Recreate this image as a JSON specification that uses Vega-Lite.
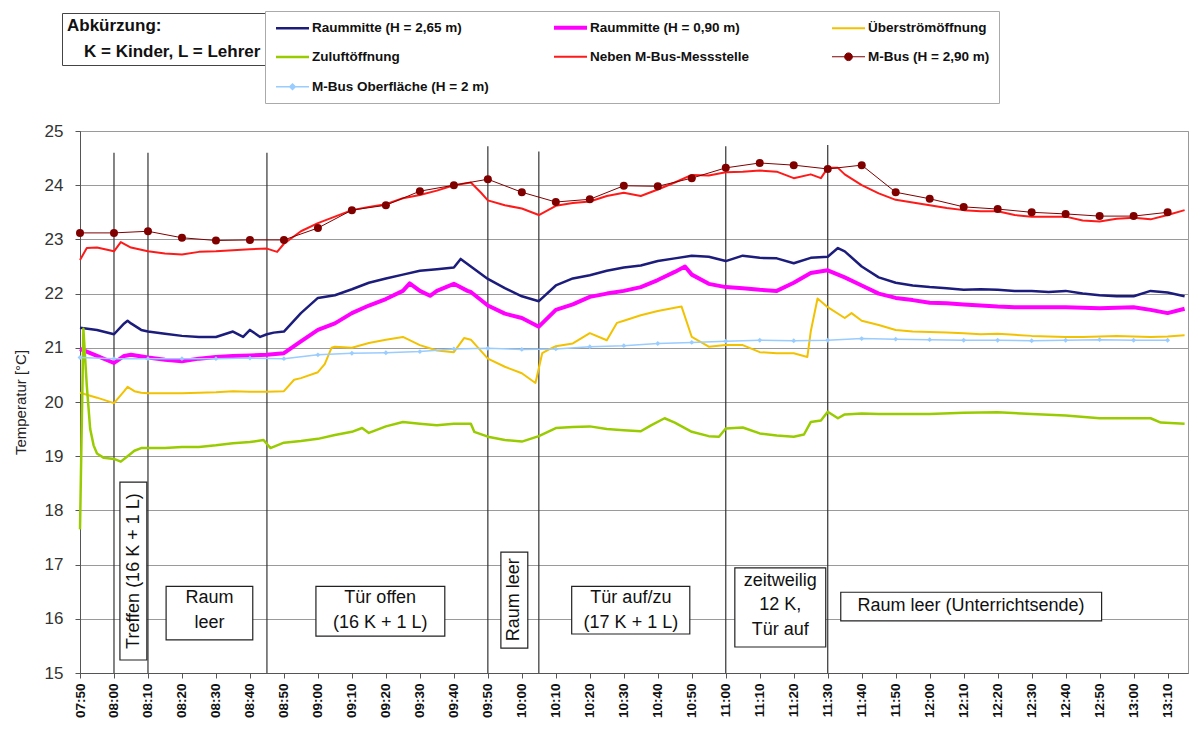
{
  "$schema": "https://vega.github.io/schema/vega-lite/v6.json",
  "autosize": "none",
  "width": 1108,
  "height": 542,
  "padding": {"left": 80, "top": 131, "right": 3, "bottom": 56},
  "background": "white",
  "config": {
    "font": "Liberation Sans",
    "view": {"stroke": "#999", "strokeWidth": 1}
  },
  "datasets": {
    "messung": [
      {"t":"07:50","a":21.37,"b":20.98,"c":20.17,"d":17.65,"e":22.62,"f":23.12,"g":20.82},
      {"t":"07:51","d":21.35},
      {"t":"07:52","d":20.3,"e":22.84},
      {"t":"07:53","d":19.5},
      {"t":"07:54","d":19.2},
      {"t":"07:55","a":21.33,"b":20.85,"c":20.08,"d":19.05,"e":22.85},
      {"t":"07:57","d":18.97},
      {"t":"08:00","a":21.25,"b":20.72,"c":19.98,"d":18.95,"e":22.78,"f":23.12,"g":20.8},
      {"t":"08:02","d":18.9,"e":22.95},
      {"t":"08:03","a":21.45,"b":20.85,"c":20.2},
      {"t":"08:04","a":21.5,"c":20.28,"d":19.0},
      {"t":"08:05","a":21.45,"b":20.87,"e":22.85},
      {"t":"08:06","c":20.2,"d":19.1},
      {"t":"08:08","a":21.33,"c":20.17,"d":19.15},
      {"t":"08:10","a":21.3,"b":20.82,"c":20.16,"d":19.15,"e":22.78,"f":23.15,"g":20.8},
      {"t":"08:15","a":21.26,"b":20.78,"c":20.16,"d":19.15,"e":22.74},
      {"t":"08:20","a":21.22,"b":20.75,"c":20.16,"d":19.17,"e":22.72,"f":23.03,"g":20.8},
      {"t":"08:25","a":21.2,"b":20.8,"c":20.17,"d":19.17,"e":22.77},
      {"t":"08:30","a":21.2,"b":20.83,"c":20.18,"d":19.2,"e":22.78,"f":22.98,"g":20.8},
      {"t":"08:35","a":21.3,"b":20.85,"c":20.2,"d":19.24,"e":22.8},
      {"t":"08:38","a":21.2},
      {"t":"08:40","a":21.33,"b":20.86,"c":20.19,"d":19.26,"e":22.82,"f":22.99,"g":20.81},
      {"t":"08:43","a":21.2},
      {"t":"08:44","d":19.3},
      {"t":"08:45","a":21.25,"b":20.87,"c":20.19,"e":22.83},
      {"t":"08:46","d":19.15},
      {"t":"08:47","a":21.28},
      {"t":"08:48","e":22.77},
      {"t":"08:50","a":21.3,"b":20.9,"c":20.2,"d":19.25,"e":22.92,"f":22.99,"g":20.8},
      {"t":"08:53","c":20.41},
      {"t":"08:55","a":21.64,"b":21.12,"c":20.44,"d":19.28,"e":23.15},
      {"t":"09:00","a":21.92,"b":21.33,"c":20.55,"d":19.32,"e":23.3,"f":23.21,"g":20.87},
      {"t":"09:02","c":20.7},
      {"t":"09:04","c":21.0},
      {"t":"09:05","a":21.97,"b":21.45,"c":21.02,"d":19.39,"e":23.42},
      {"t":"09:10","a":22.08,"b":21.64,"c":21.0,"d":19.45,"e":23.54,"f":23.54,"g":20.9},
      {"t":"09:13","d":19.52},
      {"t":"09:15","a":22.2,"b":21.78,"c":21.09,"d":19.43,"e":23.6},
      {"t":"09:20","a":22.28,"b":21.9,"c":21.15,"d":19.55,"e":23.65,"f":23.63,"g":20.91},
      {"t":"09:25","a":22.35,"b":22.05,"c":21.2,"d":19.63,"e":23.76},
      {"t":"09:27","b":22.19},
      {"t":"09:30","a":22.42,"b":22.05,"c":21.05,"d":19.6,"e":23.82,"f":23.89,"g":20.93},
      {"t":"09:33","b":21.96},
      {"t":"09:35","a":22.45,"b":22.05,"c":20.95,"d":19.57,"e":23.9},
      {"t":"09:40","a":22.48,"b":22.18,"c":20.92,"d":19.6,"e":24.0,"f":24.0,"g":20.98},
      {"t":"09:42","a":22.64},
      {"t":"09:43","c":21.18},
      {"t":"09:44","b":22.05},
      {"t":"09:45","a":22.5,"b":22.03,"c":21.15,"d":19.6,"e":24.05},
      {"t":"09:46","d":19.45},
      {"t":"09:48","e":23.86},
      {"t":"09:50","a":22.27,"b":21.78,"c":20.8,"d":19.36,"e":23.72,"f":24.11,"g":20.99},
      {"t":"09:55","a":22.1,"b":21.63,"c":20.65,"d":19.3,"e":23.63},
      {"t":"10:00","a":21.95,"b":21.55,"c":20.53,"d":19.27,"e":23.57,"f":23.87,"g":20.97},
      {"t":"10:04","c":20.35},
      {"t":"10:05","a":21.86,"b":21.39,"d":19.37,"e":23.45},
      {"t":"10:06","c":20.9},
      {"t":"10:08","c":20.97},
      {"t":"10:10","a":22.15,"b":21.7,"c":21.03,"d":19.52,"e":23.62,"f":23.69,"g":20.98},
      {"t":"10:15","a":22.28,"b":21.8,"c":21.08,"d":19.54,"e":23.67},
      {"t":"10:20","a":22.34,"b":21.94,"c":21.27,"d":19.55,"e":23.7,"f":23.74,"g":21.02},
      {"t":"10:25","a":22.42,"b":22.0,"c":21.14,"d":19.5,"e":23.8},
      {"t":"10:28","c":21.46},
      {"t":"10:30","a":22.48,"b":22.05,"c":21.5,"d":19.48,"e":23.86,"f":23.99,"g":21.04},
      {"t":"10:35","a":22.52,"b":22.12,"c":21.6,"d":19.46,"e":23.8},
      {"t":"10:38","d":19.57},
      {"t":"10:40","a":22.6,"b":22.25,"c":21.68,"e":23.92,"f":23.98,"g":21.08},
      {"t":"10:42","d":19.7},
      {"t":"10:45","a":22.65,"b":22.4,"c":21.74,"d":19.62,"e":24.05},
      {"t":"10:47","c":21.76},
      {"t":"10:48","b":22.5},
      {"t":"10:50","a":22.7,"b":22.35,"c":21.2,"d":19.45,"e":24.19,"f":24.13,"g":21.1},
      {"t":"10:55","a":22.68,"b":22.18,"c":21.02,"d":19.37,"e":24.18},
      {"t":"10:58","d":19.36},
      {"t":"11:00","a":22.6,"b":22.12,"c":21.05,"d":19.51,"e":24.24,"f":24.32,"g":21.12},
      {"t":"11:05","a":22.7,"b":22.1,"c":21.05,"d":19.53,"e":24.25},
      {"t":"11:10","a":22.66,"b":22.07,"c":20.92,"d":19.42,"e":24.27,"f":24.41,"g":21.14},
      {"t":"11:15","a":22.65,"b":22.05,"c":20.9,"d":19.38,"e":24.25},
      {"t":"11:20","a":22.56,"b":22.2,"c":20.9,"d":19.36,"e":24.13,"f":24.37,"g":21.13},
      {"t":"11:23","d":19.4},
      {"t":"11:24","c":20.83},
      {"t":"11:25","a":22.66,"b":22.38,"c":21.3,"d":19.63,"e":24.2},
      {"t":"11:27","c":21.91},
      {"t":"11:28","d":19.66,"e":24.13},
      {"t":"11:30","a":22.68,"b":22.43,"c":21.75,"d":19.82,"e":24.32,"f":24.3,"g":21.14},
      {"t":"11:33","a":22.84,"d":19.7,"e":24.32},
      {"t":"11:35","a":22.78,"b":22.3,"c":21.55,"d":19.77,"e":24.2},
      {"t":"11:37","c":21.64},
      {"t":"11:40","a":22.5,"b":22.15,"c":21.5,"d":19.79,"e":24.0,"f":24.37,"g":21.17},
      {"t":"11:45","a":22.3,"b":22.0,"c":21.42,"d":19.78,"e":23.85},
      {"t":"11:50","a":22.2,"b":21.92,"c":21.33,"d":19.78,"e":23.73,"f":23.87,"g":21.16},
      {"t":"11:55","a":22.15,"b":21.88,"c":21.3,"e":23.68},
      {"t":"12:00","a":22.12,"b":21.83,"c":21.29,"d":19.78,"e":23.63,"f":23.75,"g":21.15},
      {"t":"12:05","a":22.1,"b":21.82,"c":21.28,"e":23.58},
      {"t":"12:10","a":22.07,"b":21.8,"c":21.27,"d":19.8,"e":23.54,"f":23.6,"g":21.14},
      {"t":"12:15","a":22.08,"b":21.78,"c":21.25,"e":23.52},
      {"t":"12:20","a":22.07,"b":21.76,"c":21.26,"d":19.81,"e":23.52,"f":23.56,"g":21.14},
      {"t":"12:25","a":22.05,"b":21.75,"c":21.24,"e":23.45},
      {"t":"12:30","a":22.05,"b":21.75,"c":21.22,"d":19.78,"e":23.42,"f":23.5,"g":21.13},
      {"t":"12:35","a":22.03,"b":21.75,"c":21.21,"e":23.42},
      {"t":"12:40","a":22.05,"b":21.75,"c":21.2,"d":19.75,"e":23.42,"f":23.47,"g":21.14},
      {"t":"12:45","a":22.0,"b":21.74,"c":21.2,"e":23.35},
      {"t":"12:50","a":21.97,"b":21.73,"c":21.21,"d":19.7,"e":23.33,"f":23.43,"g":21.15},
      {"t":"12:55","a":21.95,"b":21.74,"c":21.22,"e":23.38},
      {"t":"13:00","a":21.95,"b":21.75,"c":21.21,"d":19.7,"e":23.4,"f":23.43,"g":21.14},
      {"t":"13:05","a":22.05,"b":21.7,"c":21.2,"d":19.7,"e":23.37},
      {"t":"13:08","d":19.62},
      {"t":"13:10","a":22.02,"b":21.64,"c":21.21,"e":23.45,"f":23.5,"g":21.14},
      {"t":"13:15","a":21.95,"b":21.72,"c":21.23,"d":19.6,"e":23.54}
    ],
    "ereignisse": [
      {"t":"08:00:00","unten":15,"oben":24.6},
      {"t":"08:10:00","unten":15,"oben":24.6},
      {"t":"08:45:00","unten":15,"oben":24.6},
      {"t":"09:50:00","unten":15,"oben":24.72},
      {"t":"10:05:00","unten":15,"oben":24.62},
      {"t":"11:00:00","unten":15,"oben":24.72},
      {"t":"11:30:00","unten":15,"oben":24.74}
    ],
    "abkuerzung": [
      {"eintrag":"K = Kinder, L = Lehrer"}
    ],
    "notizen_h": [
      {"von":"08:15:20","bis":"08:40:50","unten":15.61,"oben":16.6,"mitte":"08:28:05","hoehe":16.38,"text":["Raum","leer"]},
      {"von":"08:59:25","bis":"09:37:20","unten":15.68,"oben":16.6,"mitte":"09:18:20","hoehe":16.38,"text":["Tür offen","(16 K + 1 L)"]},
      {"von":"10:14:40","bis":"10:49:25","unten":15.72,"oben":16.6,"mitte":"10:32:05","hoehe":16.38,"text":["Tür auf/zu","(17 K + 1 L)"]},
      {"von":"11:02:40","bis":"11:29:25","unten":15.48,"oben":16.94,"mitte":"11:16:00","hoehe":16.7,"text":["zeitweilig","12 K,","Tür auf"]},
      {"von":"11:33:50","bis":"12:50:35","unten":15.96,"oben":16.49,"mitte":"12:12:10","hoehe":16.24,"text":"Raum leer (Unterrichtsende)"}
    ],
    "notizen_v": [
      {"von":"08:01:45","bis":"08:09:40","unten":15.24,"oben":18.52,"mitte":"08:05:45","hoehe":16.88,"text":"Treffen (16  K + 1 L)"},
      {"von":"09:53:50","bis":"10:01:45","unten":15.46,"oben":17.23,"mitte":"09:57:50","hoehe":16.35,"text":"Raum leer"}
    ]
  },
  "layer": [
    {
      "data": {"name": "ereignisse", "format": {"parse": {"t": "utc:'%H:%M:%S'"}}},
      "mark": {"type": "rule", "color": "#333", "strokeWidth": 1.2},
      "encoding": {
        "x": {"field": "t", "type": "temporal", "scale": {"type": "utc", "domain": [{"year":1900,"month":1,"date":1,"hours":7,"minutes":50,"utc":true},{"year":1900,"month":1,"date":1,"hours":13,"minutes":16,"utc":true}]},
          "axis": {"format": "%H:%M", "tickCount": {"interval": "minutes", "step": 10}, "labelAngle": 270, "labelFontWeight": "bold", "labelFontSize": 13.5, "labelColor": "#111", "labelOverlap": false, "labelFlush": false, "labelBound": false, "grid": false, "title": null, "domainColor": "#555", "tickColor": "#555", "tickSize": 5, "labelPadding": 5}},
        "y": {"field": "unten", "type": "quantitative", "scale": {"domain": [15, 25], "nice": false},
          "axis": {"values": [15,16,17,18,19,20,21,22,23,24,25], "title": "Temperatur [°C]", "titleFontSize": 15, "titleFontWeight": "normal", "titleColor": "#222", "labelFontSize": 17, "labelColor": "#333", "gridColor": "#9a9a9a", "domainColor": "#555", "tickColor": "#555", "tickSize": 5, "labelPadding": 12, "titlePadding": 16}},
        "y2": {"field": "oben"}
      }
    },
    {
      "data": {"name": "abkuerzung"},
      "mark": {"type": "point", "opacity": 0},
      "encoding": {
        "fill": {"field": "eintrag", "type": "nominal", "scale": {"range": ["white"]},
          "legend": {"orient": "none", "legendX": -18, "legendY": -118, "title": "Abkürzung:", "titleFontSize": 17, "titleFontWeight": "bold", "titleColor": "#111", "titlePadding": 8, "labelFontSize": 17, "labelFontWeight": "bold", "labelColor": "#111", "labelLimit": 400, "labelOffset": 0, "symbolSize": 1, "symbolOpacity": 0, "symbolStrokeWidth": 0, "padding": 5, "strokeColor": "#444", "fillColor": "white",
            "encode": {"legend": {"update": {"strokeWidth": {"value": 2}}}, "labels": {"update": {"dx": {"value": -9}}}}}}
      }
    },
    {
      "data": {"name": "messung", "format": {"parse": {"t": "utc:'%H:%M'"}}},
      "transform": [
        {"fold": ["a","b","c","d","e","f","g"], "as": ["s","v"]},
        {"filter": "isValid(datum.v)"}
      ],
      "layer": [
        {
          "mark": {"type": "line", "strokeJoin": "round"},
          "encoding": {
            "x": {"field": "t", "type": "temporal", "scale": {"type": "utc"}},
            "y": {"field": "v", "type": "quantitative"},
            "color": {"field": "s", "type": "nominal",
              "scale": {"domain": ["a","b","c","d","e","f","g"], "range": ["#1c1c7c","#ff00ff","#f2c200","#99cc00","#ff1a1a","#800000","#99ccff"]},
              "legend": {"orient": "none", "legendX": 185, "legendY": -120, "direction": "horizontal", "columns": 3, "gridAlign": "all", "title": null,
                "labelFontSize": 13.5, "labelFontWeight": "bold", "labelColor": "#111", "labelLimit": 600, "labelOffset": 23,
                "symbolType": "stroke", "symbolSize": 121, "symbolStrokeWidth": 2.5,
                "columnPadding": 57, "rowPadding": 13, "padding": 9, "strokeColor": "#aaa", "fillColor": "white",
                "labelExpr": "datum.value == 'a' ? 'Raummitte (H = 2,65 m)' : datum.value == 'b' ? 'Raummitte (H = 0,90 m)' : datum.value == 'c' ? 'Überströmöffnung' : datum.value == 'd' ? 'Zuluftöffnung' : datum.value == 'e' ? 'Neben M-Bus-Messstelle' : datum.value == 'f' ? 'M-Bus (H = 2,90 m)\u00a0\u00a0\u00a0\u00a0\u00a0\u00a0\u00a0\u00a0\u00a0\u00a0\u00a0\u00a0\u00a0\u00a0\u00a0\u00a0\u00a0\u00a0\u00a0\u00a0\u00a0\u00a0\u00a0\u00a0' : 'M-Bus Oberfläche (H = 2 m)'",
                "encode": {"symbols": {"update": {
                  "shape": {"signal": "datum.value == 'f' ? 'M-1,0H5M1.3,0A0.7,0.7,0,1,1,2.7,0A0.7,0.7,0,1,1,1.3,0Z' : datum.value == 'g' ? 'M-1,0H5M2,-0.5L2.5,0L2,0.5L1.5,0Z' : 'M-1,0H5'"},
                  "fill": {"signal": "datum.value == 'f' ? '#800000' : datum.value == 'g' ? '#99ccff' : 'transparent'"},
                  "strokeWidth": {"signal": "datum.value == 'f' ? 1.2 : datum.value == 'b' ? 3.5 : datum.value == 'g' ? 1.8 : 2.5"}
                }}}
              }},
            "strokeWidth": {"field": "s", "type": "nominal", "scale": {"type": "ordinal", "domain": ["a","b","c","d","e","f","g"], "range": [2.5, 4, 2, 2.5, 2, 1, 1.5]}, "legend": null}
          }
        },
        {
          "transform": [{"filter": "datum.s == 'f' || datum.s == 'g'"}],
          "mark": {"type": "point", "filled": true, "opacity": 1},
          "encoding": {
            "x": {"field": "t", "type": "temporal", "scale": {"type": "utc"}},
            "y": {"field": "v", "type": "quantitative"},
            "color": {"field": "s", "type": "nominal"},
            "shape": {"field": "s", "type": "nominal", "scale": {"domain": ["f","g"], "range": ["circle","diamond"]}, "legend": null},
            "size": {"field": "s", "type": "nominal", "scale": {"type": "ordinal", "domain": ["f","g"], "range": [64, 24]}, "legend": null}
          }
        }
      ]
    },
    {
      "data": {"name": "notizen_h", "format": {"parse": {"von": "utc:'%H:%M:%S'", "bis": "utc:'%H:%M:%S'", "mitte": "utc:'%H:%M:%S'"}}},
      "layer": [
        {
          "mark": {"type": "rect", "fill": "white", "stroke": "#222", "strokeWidth": 1.2},
          "encoding": {
            "x": {"field": "von", "type": "temporal", "scale": {"type": "utc"}},
            "x2": {"field": "bis"},
            "y": {"field": "unten", "type": "quantitative"},
            "y2": {"field": "oben"}
          }
        },
        {
          "mark": {"type": "text", "fontSize": 18, "lineHeight": 24.5, "color": "#111", "baseline": "middle", "align": "center"},
          "encoding": {
            "x": {"field": "mitte", "type": "temporal", "scale": {"type": "utc"}},
            "y": {"field": "hoehe", "type": "quantitative"},
            "text": {"field": "text"},
            "fontWeight": {"condition": {"test": "indexof(datum.text[0], 'Tür auf/zu') >= 0", "value": "bold"}, "value": "normal"}
          }
        }
      ]
    },
    {
      "data": {"name": "notizen_v", "format": {"parse": {"von": "utc:'%H:%M:%S'", "bis": "utc:'%H:%M:%S'", "mitte": "utc:'%H:%M:%S'"}}},
      "layer": [
        {
          "mark": {"type": "rect", "fill": "white", "stroke": "#222", "strokeWidth": 1.2},
          "encoding": {
            "x": {"field": "von", "type": "temporal", "scale": {"type": "utc"}},
            "x2": {"field": "bis"},
            "y": {"field": "unten", "type": "quantitative"},
            "y2": {"field": "oben"}
          }
        },
        {
          "mark": {"type": "text", "fontSize": 18, "color": "#111", "baseline": "middle", "align": "center", "angle": 270},
          "encoding": {
            "x": {"field": "mitte", "type": "temporal", "scale": {"type": "utc"}},
            "y": {"field": "hoehe", "type": "quantitative"},
            "text": {"field": "text"}
          }
        }
      ]
    }
  ]
}
